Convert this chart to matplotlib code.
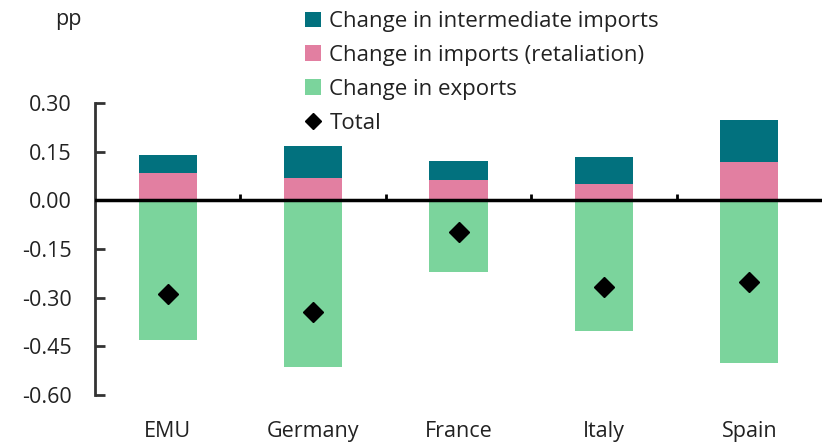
import matplotlib.pyplot as plt
import numpy as np

plt.rcParams['font.family'] = ['Open Sans', 'DejaVu Sans']

countries = ['EMU', 'Germany', 'France', 'Italy', 'Spain']
exports = [-0.431, -0.514, -0.220, -0.404, -0.502]
imports_retal = [0.084, 0.069, 0.063, 0.051, 0.117]
intermediate = [0.055, 0.098, 0.058, 0.082, 0.130]
total = [-0.288, -0.344, -0.098, -0.266, -0.251]

teal = '#02717E'
pink = '#E27FA1'
green = '#7BD49C'
txt = '#222222'

fig = plt.figure(figsize=(8.32, 4.43), dpi=100)
ax = fig.add_axes([95/832, 1-395/443, (822-95)/832, (395-103)/443])

x = np.arange(len(countries))
w = 0.4
b_exp = ax.bar(x, exports, w, color=green, zorder=2)
b_imp = ax.bar(x, imports_retal, w, color=pink, zorder=2)
b_int = ax.bar(x, intermediate, w, bottom=imports_retal, color=teal, zorder=2)
l_tot, = ax.plot(x, total, 'D', color='black', markersize=10, zorder=4)

ax.set_xlim(-0.5, len(countries) - 0.5)
ax.set_ylim(-0.60, 0.30)

# zero line with small category boundary ticks
ax.axhline(0, color='black', linewidth=2.5, zorder=3)
ax.vlines(np.arange(1, len(countries)) - 0.5, 0, 0.019, color='black', linewidth=2, zorder=3)

for s in ['top', 'right', 'bottom']:
    ax.spines[s].set_visible(False)
ax.spines['left'].set_color('#333333')
ax.spines['left'].set_linewidth(2)

yt = np.arange(-0.60, 0.31, 0.15)
ax.set_yticks(yt)
ax.set_yticklabels(['%.2f' % v for v in yt])
ax.tick_params(axis='y', direction='in', length=7, width=2, color='#333333',
               labelsize=15.5, pad=17, labelcolor=txt)
ax.set_xticks(x)
ax.set_xticklabels(countries)
ax.tick_params(axis='x', length=0, labelsize=15.5, pad=19, labelcolor=txt)

fig.text(68/832, 1-19/443, 'pp', fontsize=15.5, color=txt, ha='center', va='center')

fig.legend([b_int, b_imp, b_exp, l_tot],
           ['Change in intermediate imports', 'Change in imports (retaliation)',
            'Change in exports', 'Total'],
           loc='upper left', bbox_to_anchor=(285/832, 1.02), frameon=False, fontsize=16,
           handlelength=0.7, handleheight=0.7, handletextpad=0.4, labelspacing=0.58,
           labelcolor=txt, markerscale=0.85)

fig.savefig('out.png', dpi=100)
